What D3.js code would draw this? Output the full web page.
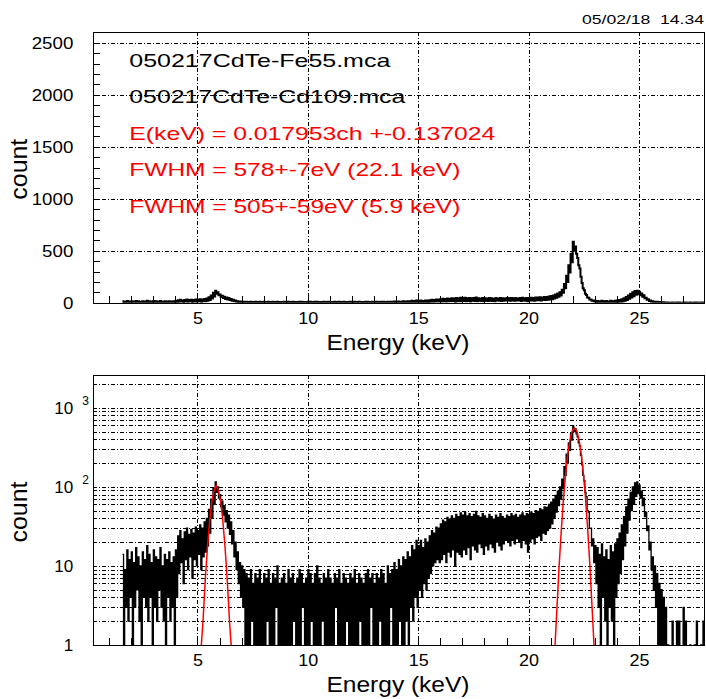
<!DOCTYPE html>
<html>
<head>
<meta charset="utf-8">
<script src="https://cdn.jsdelivr.net/npm/d3@7"></script>
<style>
  body { margin: 0; background: #fff; }
  text { font-family: 'Liberation Sans', Arial, sans-serif; }
</style>
</head>
<body>
<div id="chart"></div>
<script>
// spectrum in 0.1 keV bins starting at 1.6 keV
// hi / lo = highest and lowest channel count seen inside each bin
const binStart = 1.6;
const binWidth = 0.1;

const countsHigh = [
  // 1.6 - 4.0
  14, 9, 16, 12, 15, 11, 17, 13, 10, 15, 12, 18, 14, 11, 16, 13, 12, 17, 10, 14, 12, 15, 11, 13, 16,
  // 4.1 - 5.3
  24, 28, 22, 27, 30, 25, 29, 26, 31, 28, 33, 30, 36,
  // 5.4 - 6.9 (Mn K line)
  40, 52, 70, 95, 116, 100, 80, 66, 58, 50, 44, 36, 28, 20, 15, 11,
  // 7.0 - 14.3
  10, 9, 8, 7, 9, 6, 8, 7, 9, 6,
  8, 7, 9, 6, 8, 7, 10, 6, 7, 8,
  6, 9, 7, 8, 6, 7, 9, 8, 6, 7,
  9, 8, 6, 8, 10, 7, 6, 8, 7, 9,
  7, 6, 8, 7, 9, 6, 8, 7, 6, 8,
  7, 9, 6, 8, 7, 6, 8, 9, 7, 8,
  6, 8, 7, 9, 8, 6, 10, 8, 9, 11,
  9, 12, 10, 13,
  // 14.4 - 15.9
  12, 15, 13, 18, 16, 21, 18, 21, 17, 22, 20, 24, 28, 26, 31, 30,
  // 16.0 - 21.0
  34, 38, 36, 41, 39, 43, 40, 45, 42, 47,
  44, 48, 43, 46, 42, 45, 49, 43, 41, 46,
  43, 40, 45, 42, 39, 44, 41, 46, 42, 40,
  44, 42, 46, 43, 45, 41, 44, 47, 43, 46,
  45, 48, 46, 50, 49, 53, 51, 56, 55, 60,
  64,
  // 21.1 - 23.0 (Ag K-alpha)
  70, 78, 88, 100, 125, 180, 260, 360, 470, 585, 540, 430, 330, 190, 120, 75, 48, 30, 22, 18,
  // 23.1 - 24.0
  17, 14, 19, 13, 16, 12, 18, 15, 19, 22,
  // 24.1 - 26.2 (Ag K-beta)
  26, 33, 42, 56, 70, 85, 100, 112, 116, 105, 88, 72, 48, 32, 20, 13, 10, 8, 6, 5, 4, 3,
  // 26.3 - 27.9
  1, 0, 2, 0, 2, 2, 0, 3, 2, 0, 1, 0, 1, 2, 0, 1, 2
];

const countsLow = [
  // 1.6 - 4.0
  1, 3, 2, 4, 1, 3, 5, 2, 1, 4, 3, 2, 4, 1, 3, 2, 5, 3, 2, 1, 4, 2, 3, 1, 4,
  // 4.1 - 5.3
  8, 11, 6, 12, 9, 13, 7, 12, 10, 14, 9, 13, 15,
  // 5.4 - 6.9
  18, 26, 40, 60, 85, 72, 56, 44, 36, 30, 25, 19, 13, 9, 6, 4,
  // 7.0 - 14.3
  3, 1, 0, 0, 2, 0, 0, 1, 0, 0,
  0, 2, 0, 0, 0, 3, 0, 0, 1, 0,
  0, 0, 0, 2, 0, 0, 0, 3, 0, 0,
  0, 2, 0, 0, 0, 0, 2, 0, 0, 0,
  0, 0, 3, 0, 0, 0, 0, 2, 0, 0,
  0, 0, 0, 2, 0, 0, 0, 0, 3, 0,
  0, 0, 2, 0, 0, 0, 0, 3, 0, 0,
  0, 2, 0, 1,
  // 14.4 - 15.9
  2, 1, 3, 2, 4, 3, 5, 4, 6, 5, 7, 8, 10, 11, 12, 11,
  // 16.0 - 21.0
  12, 14, 11, 15, 13, 16, 10, 15, 14, 13,
  16, 14, 17, 12, 18, 16, 15, 19, 17, 14,
  18, 16, 19, 17, 15, 20, 18, 16, 19, 21,
  20, 18, 21, 19, 22, 20, 17, 21, 19, 15,
  20, 22, 19, 23, 24, 21, 26, 25, 28, 30,
  34,
  // 21.1 - 23.0
  40, 48, 58, 70, 95, 140, 200, 290, 390, 500, 470, 360, 250, 140, 85, 50, 30, 18, 11, 6,
  // 23.1 - 24.0
  3, 1, 4, 2, 0, 3, 2, 0, 4, 6,
  // 24.1 - 26.2
  8, 12, 18, 26, 38, 50, 62, 76, 82, 72, 58, 42, 28, 16, 9, 5, 3, 1, 0, 0, 0, 0,
  // 26.3 - 27.9
  0, 0, 0, 0, 0, 0, 0, 0, 0, 0, 0, 0, 0, 0, 0, 0, 0
];

// gaussian fits (red)
const fitFeEnergy = [5.15, 5.25, 5.35, 5.45, 5.55, 5.65, 5.75, 5.85, 5.95, 6.05, 6.15, 6.25, 6.35, 6.45, 6.55];
const fitFeCounts = [0.5, 2, 6.5, 17, 37, 65, 90, 104, 90, 65, 37, 17, 6.5, 2, 0.5];
const fitCdEnergy = [21.18, 21.28, 21.38, 21.48, 21.58, 21.68, 21.78, 21.88, 21.98, 22.08, 22.18, 22.28, 22.38, 22.48, 22.58, 22.68, 22.78, 22.88, 22.98];
const fitCdCounts = [0.7, 2.8, 9.7, 28, 71, 148, 265, 401, 515, 555, 515, 401, 265, 148, 71, 28, 9.7, 2.8, 0.7];

// texts
const legendText = [
  '050217CdTe-Fe55.mca',
  '050217CdTe-Cd109.mca',
  'E(keV) = 0.017953ch +-0.137024',
  'FWHM = 578+-7eV (22.1 keV)',
  'FWHM = 505+-59eV (5.9 keV)'
];
const legendColor = ['#000', '#000', '#ff0000', '#ff0000', '#ff0000'];
const legendWidth = [261, 276, 366, 331, 331];
const stamp = '05/02/18  14.34';

// ticks
const xTicks = [5, 10, 15, 20, 25];
const linTicks = [0, 500, 1000, 1500, 2000, 2500];
const logTicks = [1, 10, 100, 1000];
const logBase = ['1', '10', '10', '10'];
const logExp = ['', '', '2', '3'];

// measures
const width = 706;
const height = 699;
const left = 93.3, right = 705.2;
const top1 = { top: 31.7, bottom: 302.7 };
const top2 = { top: 375, bottom: 645 };

const svg = d3.select('#chart')
  .append('svg')
  .attr('width', width)
  .attr('height', height)
  .attr('viewBox', [0, 0, width, height]);

// scales
const x = d3.scaleLinear().domain([0.28, 28]).range([left, right]);
const yLin = d3.scaleLinear().domain([0, 2606]).range([top1.bottom, top1.top]);
const yLog = d3.scaleLog().domain([1, 2600]).range([top2.bottom, top2.top]);

// histogram as hi/lo steps, two channels per bin
const bins = countsHigh.map((hi, i) => ({ e: binStart + i * binWidth, hi: hi, lo: countsLow[i] }));
const points = bins.flatMap(b => [
  [b.e, b.hi], [b.e + binWidth / 2, b.hi], [b.e + binWidth / 2, b.lo], [b.e + binWidth, b.lo]
]);

const gridDash = '4,2,1,2';
const px = v => Math.round(v) + 0.5;   // snap thin lines to the pixel grid

function panel(y, box, id, yGrid) {
  const g = svg.append('g');

  g.append('clipPath').attr('id', id)
    .append('rect')
    .attr('x', left).attr('y', box.top)
    .attr('width', right - left).attr('height', box.bottom - box.top);

  // grid
  g.append('g').selectAll('line').data(xTicks).join('line')
    .attr('x1', d => px(x(d))).attr('x2', d => px(x(d)))
    .attr('y1', box.top).attr('y2', box.bottom)
    .attr('stroke', '#000').attr('stroke-width', 1).attr('stroke-dasharray', gridDash)
    .attr('shape-rendering', 'crispEdges');
  g.append('g').selectAll('line').data(yGrid).join('line')
    .attr('x1', left).attr('x2', right)
    .attr('y1', d => px(y(d))).attr('y2', d => px(y(d)))
    .attr('stroke', '#000').attr('stroke-width', 1).attr('stroke-dasharray', gridDash)
    .attr('shape-rendering', 'crispEdges');

  // minor x ticks every keV
  g.append('g')
    .attr('transform', `translate(0, ${box.bottom})`)
    .call(d3.axisBottom(x).tickValues(d3.range(1, 28)).tickSize(-7).tickFormat(''))
    .call(a => a.select('.domain').remove())
    .selectAll('line').attr('stroke-width', 1).attr('shape-rendering', 'crispEdges');

  // x labels
  g.append('g')
    .attr('transform', `translate(0, ${box.bottom})`)
    .call(d3.axisBottom(x).tickValues(xTicks).tickSize(0).tickPadding(9).tickFormat(d3.format('d')))
    .call(a => a.select('.domain').remove())
    .selectAll('text')
    .attr('font-size', 17).attr('font-family', "'Liberation Sans', Arial, sans-serif")
    .attr('fill', '#000')
    .attr('textLength', d => String(d).length * 10)
    .attr('lengthAdjust', 'spacingAndGlyphs');

  // x title
  g.append('text')
    .attr('x', 398).attr('y', box.bottom + 47)
    .attr('text-anchor', 'middle')
    .attr('font-size', 22)
    .attr('textLength', 143).attr('lengthAdjust', 'spacingAndGlyphs')
    .text('Energy (keV)');

  // y title
  g.append('text')
    .attr('transform', `translate(27, ${(box.top + box.bottom) / 2 + 2}) rotate(-90)`)
    .attr('text-anchor', 'middle')
    .attr('font-size', 23)
    .attr('textLength', 61).attr('lengthAdjust', 'spacingAndGlyphs')
    .text('count');

  return g;
}

// ---- top panel, linear ----
const p1 = panel(yLin, top1, 'clip1', [500, 1000, 1500, 2000, 2500]);

p1.append('g')
  .attr('transform', `translate(${left}, 0)`)
  .call(d3.axisLeft(yLin).tickValues(d3.range(100, 2600, 100)).tickSize(-7).tickFormat(''))
  .call(a => a.select('.domain').remove())
  .selectAll('line').attr('stroke-width', 1).attr('shape-rendering', 'crispEdges');

p1.append('g')
  .attr('transform', `translate(${left}, 0)`)
  .call(d3.axisLeft(yLin).tickValues(linTicks).tickSize(0).tickPadding(20).tickFormat(d3.format('d')))
  .call(a => a.select('.domain').remove())
  .selectAll('text')
  .attr('font-size', 17).attr('font-family', "'Liberation Sans', Arial, sans-serif")
  .attr('fill', '#000')
  .attr('textLength', d => String(d).length * 10.4)
  .attr('lengthAdjust', 'spacingAndGlyphs');

p1.append('path')
  .datum(points)
  .attr('clip-path', 'url(#clip1)')
  .attr('fill', 'none')
  .attr('stroke', '#000')
  .attr('stroke-width', 2)
  .attr('d', d3.line().x(d => x(d[0])).y(d => yLin(d[1])));

p1.append('g').selectAll('text').data(legendText).join('text')
  .attr('x', 129.3)
  .attr('y', (d, i) => 66.7 + i * 36.5)
  .attr('font-size', 19)
  .attr('fill', (d, i) => legendColor[i])
  .attr('textLength', (d, i) => legendWidth[i])
  .attr('lengthAdjust', 'spacingAndGlyphs')
  .text(d => d);

p1.append('rect')
  .attr('x', px(left)).attr('y', px(top1.top))
  .attr('width', Math.round(right - left) - 1).attr('height', Math.round(top1.bottom - top1.top))
  .attr('fill', 'none').attr('stroke', '#000').attr('stroke-width', 1)
  .attr('shape-rendering', 'crispEdges');

// ---- bottom panel, log ----
const p2 = panel(yLog, top2, 'clip2', yLog.ticks().filter(d => d > 1));

p2.append('g')
  .attr('transform', `translate(${left}, 0)`)
  .call(d3.axisLeft(yLog).tickValues(logTicks).tickSize(0).tickPadding(20).tickFormat((d, i) => logBase[i]))
  .call(a => a.select('.domain').remove())
  .selectAll('text')
  .attr('font-size', 17).attr('font-family', "'Liberation Sans', Arial, sans-serif")
  .attr('fill', '#000')
  .attr('textLength', (d, i) => logBase[i].length * 9.5)
  .attr('lengthAdjust', 'spacingAndGlyphs');

p2.append('g').selectAll('text').data(logTicks.filter((d, i) => logExp[i])).join('text')
  .attr('x', left - 11)
  .attr('y', d => yLog(d) - 3)
  .attr('font-size', 12)
  .text(d => logExp[logTicks.indexOf(d)]);

const clampLog = v => yLog(Math.max(v, 0.8));

p2.append('path')
  .datum(points)
  .attr('clip-path', 'url(#clip2)')
  .attr('fill', 'none')
  .attr('stroke', '#000')
  .attr('stroke-width', 1.3)
  .attr('d', d3.line().x(d => x(d[0])).y(d => clampLog(d[1])));

// fits
[[fitFeEnergy, fitFeCounts], [fitCdEnergy, fitCdCounts]].forEach(([es, cs]) => {
  p2.append('path')
    .datum(es.map((e, i) => [e, cs[i]]))
    .attr('clip-path', 'url(#clip2)')
    .attr('fill', 'none')
    .attr('stroke', '#ff0000')
    .attr('stroke-width', 1.5)
    .attr('d', d3.line().x(d => x(d[0])).y(d => clampLog(d[1])));
});

p2.append('rect')
  .attr('x', px(left)).attr('y', px(top2.top))
  .attr('width', Math.round(right - left) - 1).attr('height', Math.round(top2.bottom - top2.top))
  .attr('fill', 'none').attr('stroke', '#000').attr('stroke-width', 1)
  .attr('shape-rendering', 'crispEdges');

// date stamp top right
svg.append('text')
  .attr('x', 582).attr('y', 23.5)
  .attr('font-size', 13)
  .attr('xml:space', 'preserve')
  .style('white-space', 'pre')
  .attr('textLength', 122).attr('lengthAdjust', 'spacingAndGlyphs')
  .text(stamp);
</script>
</body>
</html>
